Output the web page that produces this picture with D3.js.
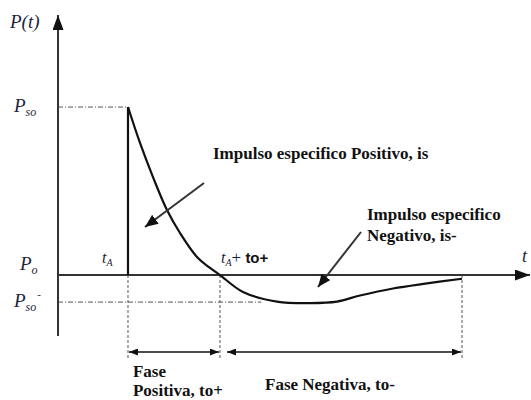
<!DOCTYPE html>
<meta charset="utf-8">
<style>
body { margin: 0; background: #fff; }
svg { display: block; }
.lbl { font-family: "Liberation Serif", serif; font-style: italic; fill: #1c1f3a; }
.note { font-family: "Liberation Serif", serif; font-weight: bold; font-size: 17px; fill: #111; }
</style>
<body>
<div id="chart"></div>
<script src="https://d3js.org/d3.v7.min.js"></script>
<script>

// curva de presion (t en unidades arbitrarias, P relativa a Pso)
var curveT = [1.515, 1.775, 2.056, 2.359, 2.641, 3.009, 3.29, 3.506, 4.004, 4.74, 5.455, 6.04, 6.537, 7.251, 7.987, 8.745];
var curveP = [1, 0.786, 0.583, 0.387, 0.25, 0.107, 0.042, 0, -0.101, -0.158, -0.167, -0.158, -0.122, -0.08, -0.05, -0.022];

// niveles de presion y sus etiquetas
var levelP = [1, 0, -0.161];
var levelMain = ["P", "P", "P"];
var levelSub = ["so", "o", "so"];
var levelSup = ["", "", "-"];

// tiempos: tA, tA + to+, fin fase negativa
var phaseT = [1.515, 3.506, 8.745];

var notePos = ["Impulso especifico Positivo, is"];
var noteNeg = ["Impulso especifico", "Negativo, is-"];
var phaseText = [["Fase", "Positiva, to+"], ["Fase Negativa, to-"]];

var width = 531, height = 400;
var margin = {top: 18, right: 11, bottom: 64, left: 58};

var svg = d3.select("#chart").append("svg")
    .attr("width", width)
    .attr("height", height);

var x = d3.scaleLinear().domain([0, 10]).range([margin.left, 520]);
var y = d3.scaleLinear().domain([-0.363, 1.53]).range([336, margin.top]);

// flechas
var defs = svg.append("defs");
function marker(id, w, h, color) {
    defs.append("marker")
        .attr("id", id)
        .attr("viewBox", "0 0 " + w + " " + h)
        .attr("refX", w).attr("refY", h / 2)
        .attr("markerWidth", w).attr("markerHeight", h)
        .attr("markerUnits", "userSpaceOnUse")
        .attr("orient", "auto-start-reverse")
      .append("path")
        .attr("d", "M0,0L" + w + "," + (h / 2) + "L0," + h + "Z")
        .attr("fill", color);
}
marker("axisHead", 15, 11, "#111");
marker("dimHead", 9, 7, "#111");
marker("noteHead", 13, 11, "#111");

// lineas de referencia punto-raya
svg.append("line")
    .attr("x1", x(0)).attr("x2", x(phaseT[0]))
    .attr("y1", y(levelP[0])).attr("y2", y(levelP[0]))
    .attr("stroke", "#555").attr("stroke-width", 1)
    .attr("stroke-dasharray", "5,2,1,2");
svg.append("line")
    .attr("x1", x(0)).attr("x2", x(4.4))
    .attr("y1", y(levelP[2])).attr("y2", y(levelP[2]))
    .attr("stroke", "#555").attr("stroke-width", 1)
    .attr("stroke-dasharray", "5,2,1,2");

// verticales discontinuas
svg.selectAll(".vdash")
    .data(phaseT)
    .enter().append("line")
    .attr("x1", d => x(d)).attr("x2", d => x(d))
    .attr("y1", y(0)).attr("y2", 358)
    .attr("stroke", "#555").attr("stroke-width", 1)
    .attr("stroke-dasharray", "3,2");

// ejes
var xAxis = d3.axisBottom(x).tickValues([]).tickSizeOuter(0);
svg.append("g")
    .attr("transform", "translate(0," + y(0) + ")")
    .call(xAxis)
    .select(".domain")
    .attr("d", "M" + x(0) + ",0H" + (x(10) + 10))
    .attr("stroke", "#333").attr("stroke-width", 2)
    .attr("marker-end", "url(#axisHead)");

var yAxis = d3.axisLeft(y).tickValues([]).tickSizeOuter(0);
svg.append("g")
    .attr("transform", "translate(" + x(0) + ",0)")
    .call(yAxis)
    .select(".domain")
    .attr("d", "M0," + y(-0.363) + "V" + (margin.top - 3))
    .attr("stroke", "#333").attr("stroke-width", 2)
    .attr("marker-end", "url(#axisHead)");

// frente de choque
svg.append("line")
    .attr("x1", x(phaseT[0])).attr("x2", x(phaseT[0]))
    .attr("y1", y(0)).attr("y2", y(1))
    .attr("stroke", "#111").attr("stroke-width", 2.2);

// curva
var pts = curveT.map((t, i) => [t, curveP[i]]);
var line = d3.line()
    .x(d => x(d[0]))
    .y(d => y(d[1]))
    .curve(d3.curveCatmullRom);
svg.append("path")
    .datum(pts)
    .attr("d", line)
    .attr("fill", "none")
    .attr("stroke", "#111")
    .attr("stroke-width", 2.2);

// cotas de las fases
var dimY = 352;
svg.append("line")
    .attr("x1", x(phaseT[0]) + 1).attr("x2", x(phaseT[1]) - 1)
    .attr("y1", dimY).attr("y2", dimY)
    .attr("stroke", "#111").attr("stroke-width", 1.6)
    .attr("marker-start", "url(#dimHead)")
    .attr("marker-end", "url(#dimHead)");
svg.append("line")
    .attr("x1", x(phaseT[1]) + 7).attr("x2", x(phaseT[2]) - 1)
    .attr("y1", dimY).attr("y2", dimY)
    .attr("stroke", "#111").attr("stroke-width", 1.6)
    .attr("marker-start", "url(#dimHead)")
    .attr("marker-end", "url(#dimHead)");

// flechas de los impulsos
svg.append("line")
    .attr("x1", 204).attr("x2", 145)
    .attr("y1", 183).attr("y2", 227)
    .attr("stroke", "#333").attr("stroke-width", 2)
    .attr("marker-end", "url(#noteHead)");
svg.append("line")
    .attr("x1", 361).attr("x2", 318)
    .attr("y1", 232).attr("y2", 287)
    .attr("stroke", "#333").attr("stroke-width", 2)
    .attr("marker-end", "url(#noteHead)");

// etiquetas del eje vertical
svg.append("text")
    .attr("class", "lbl")
    .attr("x", 10).attr("y", 28)
    .attr("font-size", 19)
    .text("P(t)");

var lv = svg.selectAll(".lv")
    .data(levelP)
    .enter().append("text")
    .attr("class", "lbl")
    .attr("x", (d, i) => i === 1 ? 20 : 14)
    .attr("y", (d, i) => y(d) + (i === 1 ? -5 : 5))
    .attr("font-size", 19);
lv.append("tspan").text((d, i) => levelMain[i]);
lv.append("tspan")
    .attr("font-size", 12)
    .attr("dy", 4)
    .text((d, i) => levelSub[i]);
lv.append("tspan")
    .attr("font-size", 11)
    .attr("dy", -13)
    .attr("dx", 1)
    .text((d, i) => levelSup[i]);

// etiquetas de tiempo
var ta = svg.append("text")
    .attr("class", "lbl")
    .attr("x", x(phaseT[0]) - 26).attr("y", 263)
    .attr("font-size", 16);
ta.append("tspan").text("t");
ta.append("tspan").attr("font-size", 10).attr("dy", 3).text("A");

var tb = svg.append("text")
    .attr("class", "lbl")
    .attr("x", x(phaseT[1]) + 1).attr("y", 263)
    .attr("font-size", 16);
tb.append("tspan").text("t");
tb.append("tspan").attr("font-size", 10).attr("dy", 3).text("A");
tb.append("tspan").attr("font-style", "normal").attr("font-size", 17).attr("dy", -3).text("+ ");
tb.append("tspan")
    .style("font-style", "normal").style("font-weight", "bold")
    .style("font-family", "'Liberation Sans', sans-serif")
    .attr("font-size", 15).attr("fill", "#111")
    .text("to+");

svg.append("text")
    .attr("class", "lbl")
    .attr("x", 522).attr("y", 262)
    .attr("font-size", 18)
    .text("t");

// notas
svg.append("text")
    .attr("class", "note")
    .attr("x", 213).attr("y", 159)
    .text(notePos[0]);

svg.selectAll(".nneg")
    .data(noteNeg)
    .enter().append("text")
    .attr("class", "note")
    .attr("x", 367)
    .attr("y", (d, i) => 220 + i * 21)
    .text(d => d);

svg.selectAll(".fpos")
    .data(phaseText[0])
    .enter().append("text")
    .attr("class", "note")
    .attr("x", x(phaseT[0]) + 5)
    .attr("y", (d, i) => 377 + i * 19)
    .text(d => d);

svg.append("text")
    .attr("class", "note")
    .attr("x", 265).attr("y", 390)
    .text(phaseText[1][0]);

</script>
</body>
